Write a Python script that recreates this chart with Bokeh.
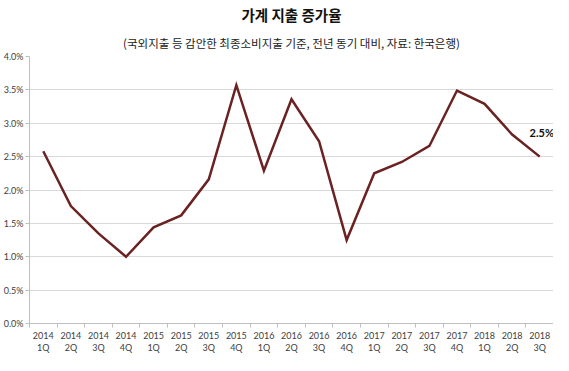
from bokeh.plotting import figure
from bokeh.models import (ColumnDataSource, FixedTicker, PrintfTickFormatter, Title,
                          Range1d, Label, LinearAxis)
from bokeh.embed import file_html
from bokeh.resources import INLINE

years = ["2014", "2014", "2014", "2014", "2015", "2015", "2015", "2015",
         "2016", "2016", "2016", "2016", "2017", "2017", "2017", "2017",
         "2018", "2018", "2018"]
quarters = ["1Q", "2Q", "3Q", "4Q", "1Q", "2Q", "3Q", "4Q",
            "1Q", "2Q", "3Q", "4Q", "1Q", "2Q", "3Q", "4Q",
            "1Q", "2Q", "3Q"]
growth = [2.58, 1.76, 1.35, 1.00, 1.44, 1.62, 2.16, 3.57,
          2.29, 3.36, 2.73, 1.25, 2.25, 2.42, 2.66, 3.49,
          3.29, 2.83, 2.50]
y_ticks = [0.0, 0.5, 1.0, 1.5, 2.0, 2.5, 3.0, 3.5, 4.0]
title_text = "가계 지출 증가율"
subtitle_text = "(국외지출 등 감안한 최종소비지출 기준, 전년 동기 대비, 자료: 한국은행)"
last_label = "2.5%"

n = len(growth)
xs = list(range(n))
year_labels = {i: y for i, y in enumerate(years)}
quarter_labels = {i: q for i, q in enumerate(quarters)}

src = ColumnDataSource(dict(x=xs, y=growth))

p = figure(width=553, height=355, output_backend="svg", toolbar_location=None,
           x_range=Range1d(-0.5, n - 0.5), y_range=Range1d(y_ticks[0], y_ticks[-1]),
           min_border_left=23, min_border_right=0, min_border_bottom=0,
           min_border_top=0, title=None)
p.outline_line_color = None
p.background_fill_color = "white"

sub = Title(text=subtitle_text, align="center", text_font="Noto Sans CJK KR",
            text_font_size="11.5px", text_font_style="normal", text_color="#222222",
            standoff=12, offset=0)
p.add_layout(sub, "above")
main = Title(text=title_text, align="center", text_font="Noto Sans CJK KR",
             text_font_size="14.5px", text_font_style="bold", text_color="#111111",
             standoff=3, offset=0)
p.add_layout(main, "above")

p.line("x", "y", source=src, line_color="#6B2222", line_width=2.5,
       line_join="miter")

lab = Label(x=xs[-1], y=growth[-1], text=last_label, x_offset=2, y_offset=24,
            text_align="center", text_baseline="middle", text_font="Lato",
            text_font_size="11px", text_font_style="bold", text_color="#111111")
p.add_layout(lab, "center")

# y axis
p.yaxis.ticker = FixedTicker(ticks=y_ticks)
p.yaxis.formatter = PrintfTickFormatter(format="%.1f%%")
p.yaxis.axis_line_color = "#BFBFBF"
p.yaxis.major_tick_line_color = "#BFBFBF"
p.yaxis.major_tick_out = 4
p.yaxis.major_tick_in = 0
p.yaxis.minor_tick_line_color = None
p.yaxis.major_label_text_font = "Lato"
p.yaxis.major_label_text_font_size = "9px"
p.yaxis.major_label_text_color = "#404040"
p.yaxis.major_label_standoff = 2

# x axis: years (first line)
p.xaxis.ticker = FixedTicker(ticks=xs, minor_ticks=[i - 0.5 for i in range(n + 1)])
p.xaxis.major_label_overrides = year_labels
p.xaxis.axis_line_color = "#BFBFBF"
p.xaxis.major_tick_line_color = None
p.xaxis.minor_tick_line_color = "#BFBFBF"
p.xaxis.minor_tick_out = 4
p.xaxis.minor_tick_in = 0
p.xaxis.major_label_text_font = "Lato"
p.xaxis.major_label_text_font_size = "9px"
p.xaxis.major_label_text_color = "#404040"
p.xaxis.major_label_standoff = 2

# x axis: quarters (second line)
qax = LinearAxis(ticker=FixedTicker(ticks=xs), major_label_overrides=quarter_labels,
                 axis_line_color=None, major_tick_line_color=None,
                 minor_tick_line_color=None, major_tick_out=0, major_tick_in=0,
                 major_label_standoff=0, major_label_text_font="Lato",
                 major_label_text_font_size="9px", major_label_text_color="#404040")
p.add_layout(qax, "below")

p.xgrid.grid_line_color = None
p.ygrid.grid_line_color = "#D9D9D9"
p.ygrid.grid_line_width = 1

open("out.html", "w").write(file_html(p, INLINE))
